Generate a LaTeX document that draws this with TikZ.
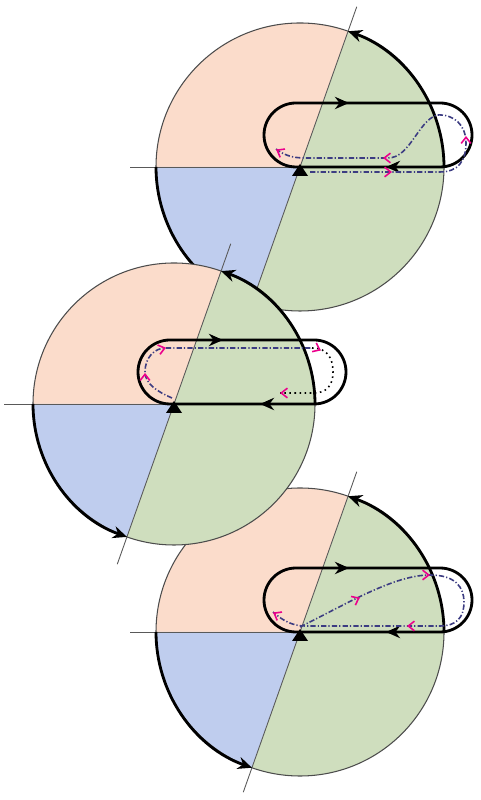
\documentclass[tikz,border=0pt]{standalone}
\usepackage{xcolor}
\usepackage{tikz}
\usetikzlibrary{arrows.meta,calc}

\definecolor{secpink}{RGB}{251,220,203}
\definecolor{secblue}{RGB}{191,205,238}
\definecolor{secgreen}{RGB}{207,222,190}
\definecolor{pathnavy}{RGB}{60,60,130}

\tikzset{
  thinline/.style={line width=0.5pt,black!65},
  rimline/.style={line width=0.6pt,black!70},
  thickline/.style={line width=1.6pt,black,line join=round},
  bigtip/.style={-{Stealth[length=8pt,width=7pt]}},
  dashpath/.style={line width=0.9pt,pathnavy,dash pattern=on 3pt off 1.2pt on 0.7pt off 1.2pt},
  dotpath/.style={line width=0.9pt,black,dotted},
  pinktip/.style={line width=0.9pt,magenta,-{Straight Barb[length=3.5pt,width=5.5pt]}}
}

\def\ang{70.5}
\def\rad{144}

% small magenta arrow head at a point, in a direction
\newcommand{\ptip}[2]{\draw[pinktip] (#1) -- ++(#2:1);}

% one disk: sectors, axes, arcs on the rim, loop, triangle
\newcommand{\drawdisk}{
  \fill[secpink] (0,0) -- (\ang:\rad) arc[start angle=\ang,end angle=180,radius=\rad] -- cycle;
  \fill[secblue] (0,0) -- (180:\rad) arc[start angle=180,end angle=180+\ang,radius=\rad] -- cycle;
  \fill[secgreen] (0,0) -- (180+\ang:\rad) arc[start angle=180+\ang,end angle=360+\ang,radius=\rad] -- cycle;
  \draw[rimline] (0,0) circle[radius=\rad];
  \draw[thinline] (-170,0) -- (0,0);
  \draw[thinline] (180+\ang:170) -- (\ang:170);
  % arcs on the rim
  \draw[thickline,bigtip] (0:\rad) arc[start angle=0,end angle=\ang,radius=\rad];
  \draw[thickline,bigtip] (180:\rad) arc[start angle=180,end angle=180+\ang,radius=\rad];
  % loop
  \draw[thickline] (140,0) -- (-4,0) arc[start angle=270,end angle=90,radius=32]
    -- (140,64) arc[start angle=90,end angle=-90,radius=32] -- cycle;
  \draw[thickline,bigtip] (32,64) -- (49,64);
  \draw[thickline,bigtip] (104,0) -- (86,0);
}

\begin{document}
\begin{tikzpicture}[x=0.02cm,y=0.02cm]
  \useasboundingbox (0,0) rectangle (480,800);

  % top disk
  \begin{scope}[shift={(300,633)}]
    \drawdisk
    \draw[dashpath] (10,-5) -- (140,-5) .. controls (158,-5) and (166,6) .. (166,24)
      .. controls (166,42) and (154,53) .. (137,52) .. controls (118,46) and (110,9) .. (88,9)
      -- (5,9) .. controls (-8,9) and (-16,12) .. (-24,18);
    \ptip{91,-5}{0}
    \ptip{166,30}{90}
    \ptip{84,9}{180}
    \ptip{-23,17}{150}
    \fill (0,3) -- (-8,-9) -- (8,-9) -- cycle;
  \end{scope}

  % bottom disk
  \begin{scope}[shift={(300,168)}]
    \drawdisk
    \draw[dashpath] (0,5) .. controls (50,30) and (95,57) .. (130,57)
      .. controls (155,57) and (164,45) .. (164,30) .. controls (164,14) and (156,6) .. (140,6)
      -- (5,6) .. controls (-8,6) and (-18,12) .. (-27,20);
    \ptip{59,34}{26}
    \ptip{129,57}{0}
    \ptip{108,6}{180}
    \ptip{-26,19}{150}
    \fill (0,3) -- (-8,-9) -- (8,-9) -- cycle;
  \end{scope}

  % middle disk
  \begin{scope}[shift={(174,396)}]
    \def\rad{141}
    \drawdisk
    \draw[dashpath] (-2,6) .. controls (-16,12) and (-29,20) .. (-29,32)
      .. controls (-29,46) and (-20,56) .. (-8,56) -- (138,56);
    \draw[dotpath] (138,56) .. controls (154,56) and (159,45) .. (159,32)
      .. controls (159,18) and (152,11) .. (140,11) -- (106,11);
    \ptip{-29,30}{90}
    \ptip{-9,56}{15}
    \ptip{146,54}{-25}
    \ptip{107,11}{180}
    \fill (0,3) -- (-8,-9) -- (8,-9) -- cycle;
  \end{scope}
\end{tikzpicture}
\end{document}
